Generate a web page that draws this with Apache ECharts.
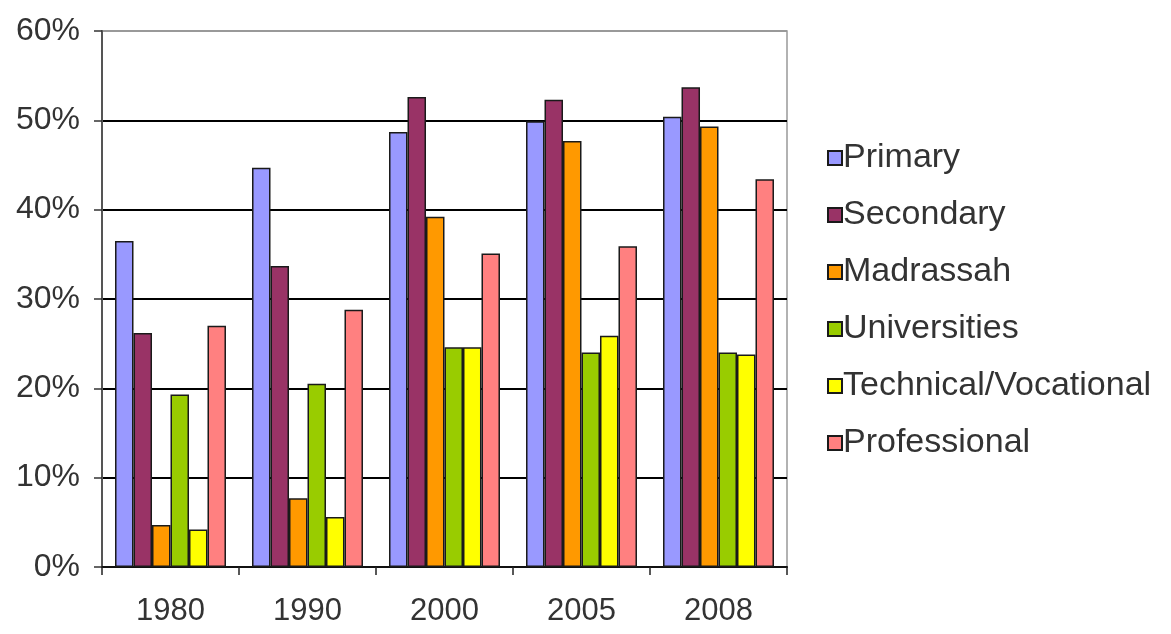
<!DOCTYPE html>
<html>
<head>
<meta charset="utf-8">
<script src="https://cdn.jsdelivr.net/npm/echarts@6/dist/echarts.min.js"></script>
<style>
html,body{margin:0;padding:0;background:#fff;}
#c{width:1171px;height:634px;}
</style>
</head>
<body>
<div id="c"></div>
<script>
const categories = ['1980', '1990', '2000', '2005', '2008'];
const primary = [36.5, 44.7, 48.7, 49.9, 50.4];
const secondary = [26.2, 33.7, 52.6, 52.3, 53.7];
const madrassah = [4.7, 7.7, 39.2, 47.7, 49.3];
const universities = [19.3, 20.5, 24.6, 24.0, 24.0];
const technical = [4.2, 5.6, 24.6, 25.9, 23.8];
const professional = [27.0, 28.8, 35.1, 35.9, 43.4];
const yTicks = [0, 10, 20, 30, 40, 50, 60];

const seriesDefs = [
  ['Primary', primary, '#9999FF'],
  ['Secondary', secondary, '#993366'],
  ['Madrassah', madrassah, '#FF9900'],
  ['Universities', universities, '#99CC00'],
  ['Technical/Vocational', technical, '#FFFF00'],
  ['Professional', professional, '#FF8080']
];

const font = 'Liberation Sans, Arial, sans-serif';
const chart = echarts.init(document.getElementById('c'), null, {renderer: 'canvas'});
chart.setOption({
  animation: false,
  backgroundColor: '#ffffff',
  grid: {left: 102, right: 384, top: 31, bottom: 67, show: true, borderColor: '#999', borderWidth: 1.5, backgroundColor: 'transparent'},
  legend: {
    orient: 'vertical',
    left: 822,
    top: 136,
    itemWidth: 14,
    itemHeight: 14,
    itemGap: 23,
    icon: 'rect',
    textStyle: {fontFamily: font, fontSize: 34, color: '#333', padding: [0, 0, 0, -4]},
    data: seriesDefs.map(s => s[0])
  },
  xAxis: {
    type: 'category',
    data: categories,
    axisLine: {lineStyle: {color: '#111', width: 2}},
    axisTick: {show: true, length: 8, lineStyle: {color: '#222', width: 1.5}},
    axisLabel: {fontFamily: font, fontSize: 31, color: '#333', margin: 29},
    splitLine: {show: false}
  },
  yAxis: {
    type: 'value',
    min: yTicks[0],
    max: yTicks[yTicks.length - 1],
    interval: 10,
    axisLine: {show: true, lineStyle: {color: '#555', width: 2}},
    axisTick: {show: true, length: 8, lineStyle: {color: '#333', width: 1.5}},
    axisLabel: {fontFamily: font, fontSize: 32, color: '#333', margin: 22, formatter: v => v + '%'},
    splitLine: {show: true, lineStyle: {color: ['#999', '#000', '#000', '#000', '#000', '#000', '#999'], width: 2}}
  },
  series: seriesDefs.map(([name, data, color]) => ({
    name: name,
    type: 'bar',
    data: data,
    barGap: '0%',
    barCategoryGap: '19%',
    itemStyle: {color: color, borderColor: '#1a1a1a', borderWidth: 1.5}
  }))
});
</script>
</body>
</html>
